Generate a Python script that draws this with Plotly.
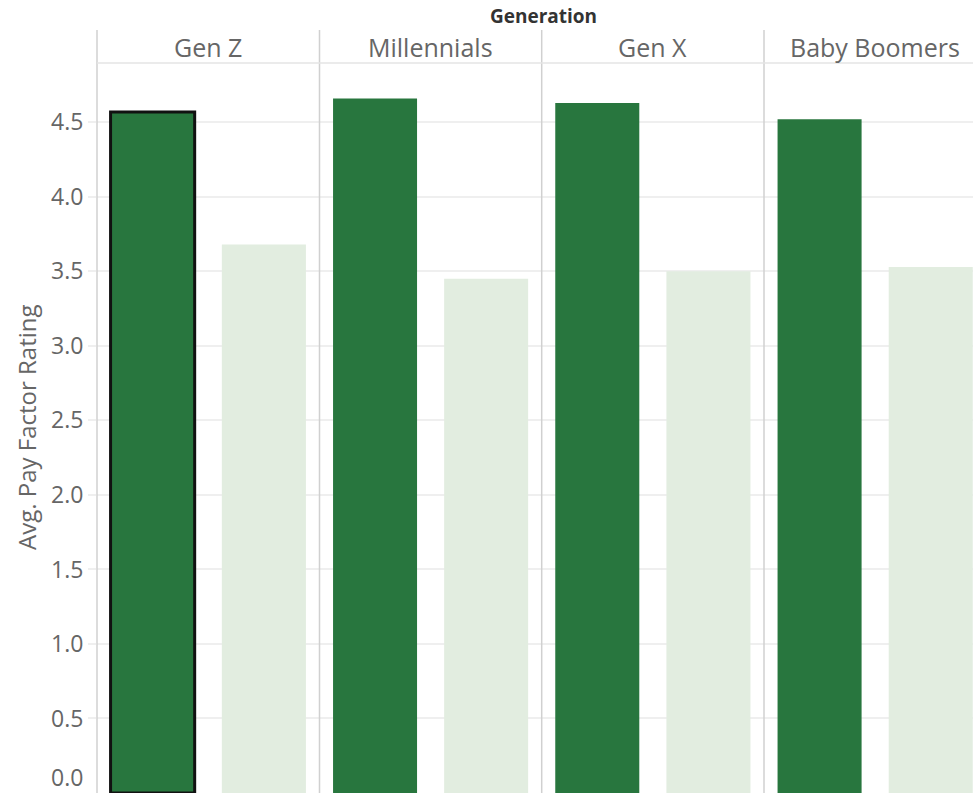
import plotly.graph_objects as go

# Average pay-factor rating by generation, two groups per generation
generations = ["Gen Z", "Millennials", "Gen X", "Baby Boomers"]
groups = ["Group A", "Group B"]
group_a_rating = [4.57, 4.66, 4.63, 4.52]
group_b_rating = [3.68, 3.45, 3.50, 3.53]
y_ticks = [0.5, 1.0, 1.5, 2.0, 2.5, 3.0, 3.5, 4.0, 4.5]

DARK = "#28763E"
LIGHT = "#E2EDE0"
TEXT = "#666666"
FONT = "Open Sans"

W, H = 973, 793
L, T = 97, 63
plot_w = W - L
plot_h = H - T

# panel edges in pixels; the last panel runs off the right edge
panel_px = [97, 319.5, 541.7, 764, 986.3]
def px_to_paper_x(px):
    return (px - L) / plot_w

def px_to_paper_y(py):
    return (H - py) / plot_h

fig = go.Figure()

for i, gen in enumerate(generations):
    ax = "x" if i == 0 else f"x{i + 1}"
    line_w = [3, 0] if i == 0 else [0, 0]
    fig.add_trace(go.Bar(
        x=groups,
        y=[group_a_rating[i], group_b_rating[i]],
        xaxis=ax, yaxis="y",
        marker=dict(color=[DARK, LIGHT],
                    line=dict(color="#111111", width=line_w)),
        showlegend=False,
        hoverinfo="skip",
    ))

layout = dict(
    width=W, height=H,
    margin=dict(l=L, r=0, t=T, b=0, pad=0),
    paper_bgcolor="white", plot_bgcolor="white",
    bargap=0.244,
    font=dict(family=FONT, color=TEXT),
    yaxis=dict(
        anchor="x",
        range=[0, 4.898],
        tickvals=y_ticks,
        ticktext=[f"{v:.1f}" for v in y_ticks],
        tickfont=dict(family=FONT, size=23, color=TEXT),
        showgrid=True, gridcolor="#EFEFEF", gridwidth=1.5,
        ticks="outside", ticklen=8, tickcolor="#EFEFEF", tickwidth=1.5,
        zeroline=False, showline=False, fixedrange=True,
    ),
)

for i in range(4):
    key = "xaxis" if i == 0 else f"xaxis{i + 1}"
    x0 = px_to_paper_x(panel_px[i])
    x1 = min(1.0, px_to_paper_x(panel_px[i + 1]))
    full = panel_px[i + 1] - panel_px[i]
    shown = min(panel_px[i + 1], W) - panel_px[i]
    hi = -0.5 + 2.0 * shown / full
    layout[key] = dict(
        domain=[x0, x1], anchor="y",
        range=[-0.5, hi],
        showticklabels=False, showgrid=False, zeroline=False,
        showline=False, ticks="", fixedrange=True,
        type="category", categoryorder="array", categoryarray=groups,
    )

fig.update_layout(**layout)

shapes = []
# vertical dividers running through header and plot
for px in panel_px[:4]:
    xp = px_to_paper_x(px)
    shapes.append(dict(type="line", xref="paper", yref="paper",
                       x0=xp, x1=xp, y0=0, y1=px_to_paper_y(30),
                       line=dict(color="#D0D0D0", width=1.5)))
# line under the generation headers
shapes.append(dict(type="line", xref="paper", yref="paper",
                   x0=0, x1=1, y0=1, y1=1,
                   line=dict(color="#E4E4E4", width=1.5)))

annotations = []
for i, gen in enumerate(generations):
    cx = px_to_paper_x((panel_px[i] + panel_px[i + 1]) / 2)
    annotations.append(dict(
        text=gen, xref="paper", yref="paper", x=cx, y=px_to_paper_y(47),
        xanchor="center", yanchor="middle", showarrow=False,
        font=dict(family=FONT, size=25, color=TEXT)))

annotations.append(dict(
    text="<b>Generation</b>", xref="paper", yref="paper",
    x=px_to_paper_x(543), y=px_to_paper_y(16),
    xanchor="center", yanchor="middle", showarrow=False,
    font=dict(family=FONT, size=19, color="#333333")))

annotations.append(dict(
    text="Avg. Pay Factor Rating", xref="paper", yref="paper",
    x=px_to_paper_x(27), y=px_to_paper_y(427), textangle=-90,
    xanchor="center", yanchor="middle", showarrow=False,
    font=dict(family=FONT, size=24, color=TEXT)))

# zero label lifted just above the bottom edge
annotations.append(dict(
    text="0.0", xref="paper", yref="paper",
    x=px_to_paper_x(85), y=px_to_paper_y(777),
    xanchor="right", yanchor="middle", showarrow=False,
    font=dict(family=FONT, size=23, color=TEXT)))

fig.update_layout(shapes=shapes, annotations=annotations)

fig.write_html("out.html")
